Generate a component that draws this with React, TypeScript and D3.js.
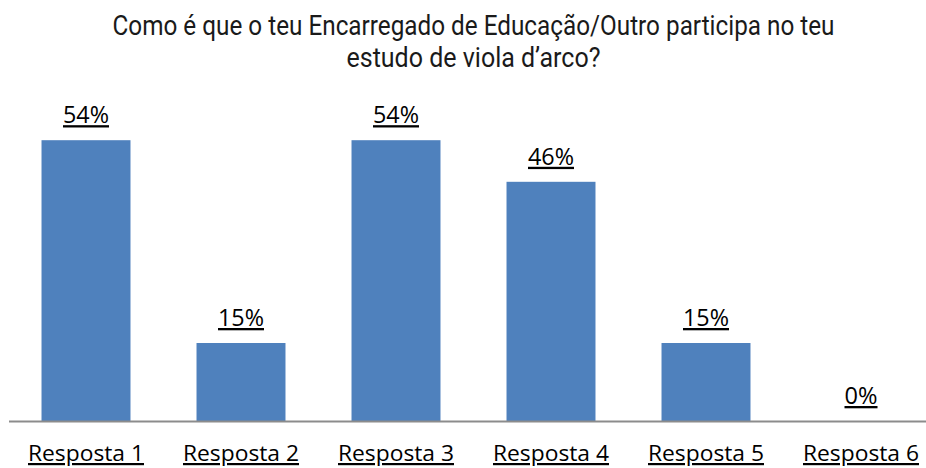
import React from "react";
import * as d3 from "d3";

const categories = ["Resposta 1", "Resposta 2", "Resposta 3", "Resposta 4", "Resposta 5", "Resposta 6"];
const values = [54, 15, 54, 46, 15, 0];
const valueLabels = ["54%", "15%", "54%", "46%", "15%", "0%"];
const titleLines = [
  "Como é que o teu Encarregado de Educação/Outro participa no teu",
  "estudo de viola d’arco?",
];

const W = 926;
const H = 468;
const baseY = 421;

export default function App() {
  const x = d3
    .scaleBand<string>()
    .domain(categories)
    .range([8.5, 938.5])
    .paddingInner(0.426)
    .paddingOuter(0.213);
  const y = d3.scaleLinear().domain([0, 60]).range([baseY, baseY - 312]);
  const labelFont = "'Open Sans', sans-serif";
  const titleFont = "Roboto, sans-serif";

  return (
    <svg
      width={W}
      height={H}
      style={{ position: "absolute", left: 0, top: 0, background: "#fff" }}
    >
      <rect x={0} y={0} width={W} height={H} fill="#fff" />
      {titleLines.map((t, i) => (
        <text
          key={i}
          x={473.5}
          y={35 + i * 32}
          textAnchor="middle"
          fontFamily={titleFont}
          fontSize={27}
          fontWeight={400}
          fill="#1a1a1a"
          textLength={i === 0 ? 722 : 254}
          lengthAdjust="spacingAndGlyphs"
        >
          {t}
        </text>
      ))}
      {categories.map((c, i) => (
        <rect
          key={c}
          x={x(c)!}
          y={y(values[i])}
          width={x.bandwidth()}
          height={baseY - y(values[i])}
          fill="#4F81BD"
        />
      ))}
      <line x1={9} x2={W} y1={baseY + 0.5} y2={baseY + 0.5} stroke="#8c8c8c" strokeWidth={2} />
      {categories.map((c, i) => (
        <text
          key={"v" + c}
          x={x(c)! + x.bandwidth() / 2}
          y={y(values[i]) - 17}
          textAnchor="middle"
          fontFamily={labelFont}
          fontSize={23}
          fill="#000"
          textDecoration="underline"
          textLength={valueLabels[i].length === 3 ? 46 : 33}
          lengthAdjust="spacingAndGlyphs"
        >
          {valueLabels[i]}
        </text>
      ))}
      {categories.map((c) => (
        <text
          key={"c" + c}
          x={x(c)! + x.bandwidth() / 2}
          y={461}
          textAnchor="middle"
          fontFamily={labelFont}
          fontSize={22}
          fill="#000"
          textDecoration="underline"
          textLength={116}
          lengthAdjust="spacingAndGlyphs"
        >
          {c}
        </text>
      ))}
    </svg>
  );
}
